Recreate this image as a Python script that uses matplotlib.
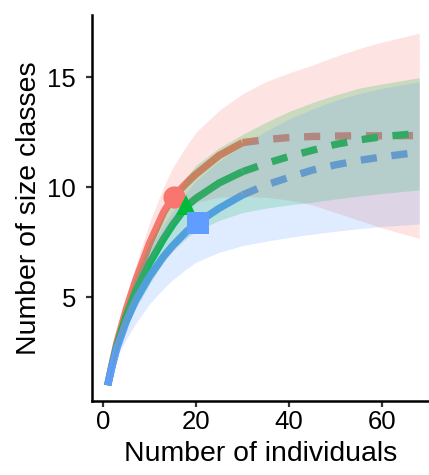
import matplotlib
matplotlib.use("Agg")
import matplotlib.pyplot as plt

# ---- data ----
x_obs = [1, 2, 3, 5, 7, 10, 13, 15, 18, 20, 25, 30]
x_ext = [30, 35, 40, 45, 50, 55, 60, 68]

red_obs = [1.0, 2.0, 2.95, 4.45, 5.75, 7.45, 8.85, 9.55, 10.2, 10.6, 11.45, 12.03]
red_ext = [12.03, 12.17, 12.26, 12.31, 12.33, 12.34, 12.34, 12.35]
green_obs = [1.0, 1.95, 2.8, 4.15, 5.25, 6.55, 7.65, 8.3, 9.15, 9.5, 10.2, 10.71]
green_ext = [10.71, 11.08, 11.4, 11.68, 11.95, 12.15, 12.3, 12.45]
blue_obs = [1.0, 1.9, 2.7, 3.9, 4.85, 5.95, 6.85, 7.35, 8.0, 8.35, 9.05, 9.65]
blue_ext = [9.65, 10.1, 10.45, 10.78, 11.02, 11.22, 11.38, 11.6]

x_band = [1, 2, 3, 5, 7, 10, 13, 15, 18, 20, 25, 30, 35, 40, 45, 50, 55, 60, 68]
red_lo = [1.0, 1.9, 2.7, 4.0, 5.1, 6.5, 7.7, 8.3, 9.0, 9.3, 9.55, 9.6, 9.55, 9.42, 9.2, 8.85, 8.5, 8.15, 7.68]
red_hi = [1.0, 2.1, 3.2, 4.9, 6.4, 8.4, 10.0, 10.9, 11.9, 12.5, 13.5, 14.25, 14.8, 15.2, 15.55, 15.95, 16.3, 16.6, 17.0]
green_lo = [1.0, 1.8, 2.5, 3.6, 4.5, 5.6, 6.6, 7.1, 7.7, 8.0, 8.5, 8.85, 9.05, 9.2, 9.32, 9.47, 9.6, 9.72, 9.88]
green_hi = [1.0, 2.1, 3.1, 4.7, 6.0, 7.5, 8.7, 9.5, 10.5, 11.0, 11.8, 12.4, 12.95, 13.45, 13.85, 14.2, 14.5, 14.7, 14.98]
blue_lo = [1.0, 1.7, 2.3, 3.1, 3.8, 4.7, 5.4, 5.8, 6.3, 6.6, 7.05, 7.35, 7.55, 7.72, 7.87, 8.0, 8.12, 8.22, 8.33]
blue_hi = [1.0, 2.1, 3.05, 4.6, 5.8, 7.2, 8.3, 8.9, 9.8, 10.3, 11.2, 11.9, 12.55, 13.1, 13.55, 13.95, 14.25, 14.5, 14.8]

ref_x = [15.3, 17.8, 20.4]
ref_y = [9.55, 9.2, 8.39]

colors = ["#F8766D", "#00BA38", "#619CFF"]
markers = ["o", "^", "s"]

xticks = [0, 20, 40, 60]
yticks = [5, 10, 15]

plt.rcParams['font.family'] = ['Liberation Sans', 'DejaVu Sans']

fig = plt.figure(figsize=(4.29, 4.75), dpi=100)
ax = fig.add_axes([0.2138, 0.1564, 0.7862, 0.8120])

lw = 5.3
obs = [red_obs, green_obs, blue_obs]
ext = [red_ext, green_ext, blue_ext]
los = [red_lo, green_lo, blue_lo]
his = [red_hi, green_hi, blue_hi]

for i in range(3):
    ax.plot(x_obs, obs[i], color=colors[i], lw=lw, solid_capstyle='butt', zorder=2)
    ax.plot(x_ext, ext[i], color=colors[i], lw=lw, dashes=(2.2, 2.0),
            dash_capstyle='butt', zorder=2)
for i in range(3):
    ax.fill_between(x_band, los[i], his[i], color=colors[i], alpha=0.2,
                    lw=0, zorder=3)
for i in range(3):
    ax.plot([ref_x[i]], [ref_y[i]], marker=markers[i], color=colors[i],
            ms=16 if markers[i] != "^" else 15, mew=0, ls='none', zorder=4)

ax.set_xlim(-2.43, 70.1)
ax.set_ylim(0.3, 17.83)
ax.set_xticks(xticks)
ax.set_yticks(yticks)
ax.tick_params(labelsize=18.5, width=1.6, length=4.3, color='#333333',
               labelcolor='black')
ax.tick_params(axis='x', pad=2.5)
ax.tick_params(axis='y', pad=7)
for s in ['top', 'right']:
    ax.spines[s].set_visible(False)
for s in ['left', 'bottom']:
    ax.spines[s].set_linewidth(1.8)
    ax.spines[s].set_color('black')
ax.set_xlabel("Number of individuals", fontsize=20.4, labelpad=5)
ax.set_ylabel("Number of size classes", fontsize=20.4, labelpad=3.6)

fig.savefig("out.png", dpi=100)
